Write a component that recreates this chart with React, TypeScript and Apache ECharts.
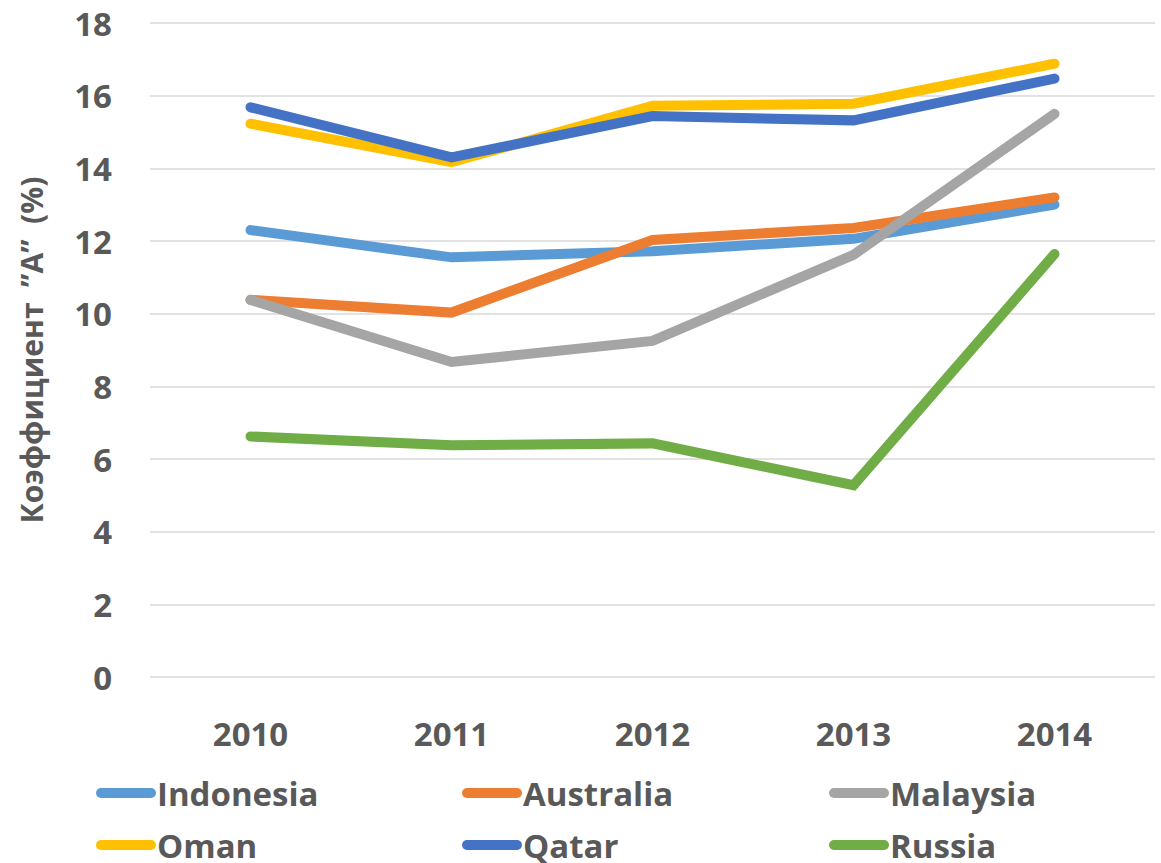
import React, { useEffect, useRef } from "react";
import * as echarts from "echarts";

const years = ["2010", "2011", "2012", "2013", "2014"];
const indonesia = [12.3, 11.55, 11.72, 12.06, 13.0];
const australia = [10.38, 10.03, 12.03, 12.36, 13.2];
const malaysia = [10.38, 8.67, 9.25, 11.62, 15.5];
const oman = [15.23, 14.17, 15.72, 15.78, 16.88];
const qatar = [15.68, 14.3, 15.44, 15.32, 16.47];
const russia = [6.62, 6.38, 6.43, 5.28, 11.64];
const yTicks = { min: 0, max: 18, interval: 2 };
const yTitle = "Коэффициент  ”A”  (%)";

const seriesDefs = [
  { name: "Indonesia", data: indonesia, color: "#5B9BD5" },
  { name: "Australia", data: australia, color: "#ED7D31" },
  { name: "Malaysia", data: malaysia, color: "#A5A5A5" },
  { name: "Oman", data: oman, color: "#FFC000" },
  { name: "Qatar", data: qatar, color: "#4472C4" },
  { name: "Russia", data: russia, color: "#70AD47" },
];

const FONT = "'Open Sans', 'Noto Sans', sans-serif";
const capsule = "path://M5,0 L55,0 A5,5 0 0 1 55,10 L5,10 A5,5 0 0 1 5,0 Z";

export default function App() {
  const ref = useRef<HTMLDivElement>(null);
  useEffect(() => {
    if (!ref.current) return;
    const chart = echarts.init(ref.current, null, { renderer: "svg" });
    const colLefts = [96, 462, 829];
    const rowTops = [773, 825];
    const legends = seriesDefs.map((s, i) => ({
      orient: "horizontal",
      left: colLefts[i % 3],
      top: rowTops[Math.floor(i / 3)],
      itemWidth: 60,
      itemHeight: 10,
      icon: capsule,
      padding: 0,
      data: [s.name],
      textStyle: {
        color: "#595959",
        fontSize: 33,
        fontWeight: "bold",
        fontFamily: FONT,
        lineHeight: 40,
        padding: [0, 0, 0, -4],
      },
    }));
    chart.setOption({
      animation: false,
      textStyle: { fontFamily: FONT },
      grid: { left: 150, right: 6, top: 23, bottom: 186, containLabel: false },
      xAxis: {
        type: "category",
        data: years,
        boundaryGap: true,
        axisLine: { show: false },
        axisTick: { show: false },
        axisLabel: {
          margin: 40,
          color: "#595959",
          fontSize: 33,
          fontWeight: "bold",
          fontFamily: FONT,
        },
      },
      yAxis: {
        type: "value",
        min: yTicks.min,
        max: yTicks.max,
        interval: yTicks.interval,
        name: yTitle,
        nameLocation: "middle",
        nameGap: 104,
        nameRotate: 90,
        nameTextStyle: {
          color: "#595959",
          fontSize: 30,
          fontWeight: "bold",
          fontFamily: FONT,
        },
        axisLine: { show: false },
        axisTick: { show: false },
        splitLine: { lineStyle: { color: "#D9D9D9", width: 1.5 } },
        axisLabel: {
          margin: 38,
          color: "#595959",
          fontSize: 33,
          fontWeight: "bold",
          fontFamily: FONT,
        },
      },
      legend: legends,
      series: seriesDefs.map((s) => ({
        name: s.name,
        type: "line",
        data: s.data,
        symbol: "none",
        color: s.color,
        lineStyle: { width: 10, color: s.color, cap: "round", join: "miter" },
        itemStyle: { color: s.color },
      })),
    });
    return () => chart.dispose();
  }, []);
  return <div ref={ref} style={{ width: 1161, height: 863, position: "absolute", left: 0, top: 0 }} />;
}
